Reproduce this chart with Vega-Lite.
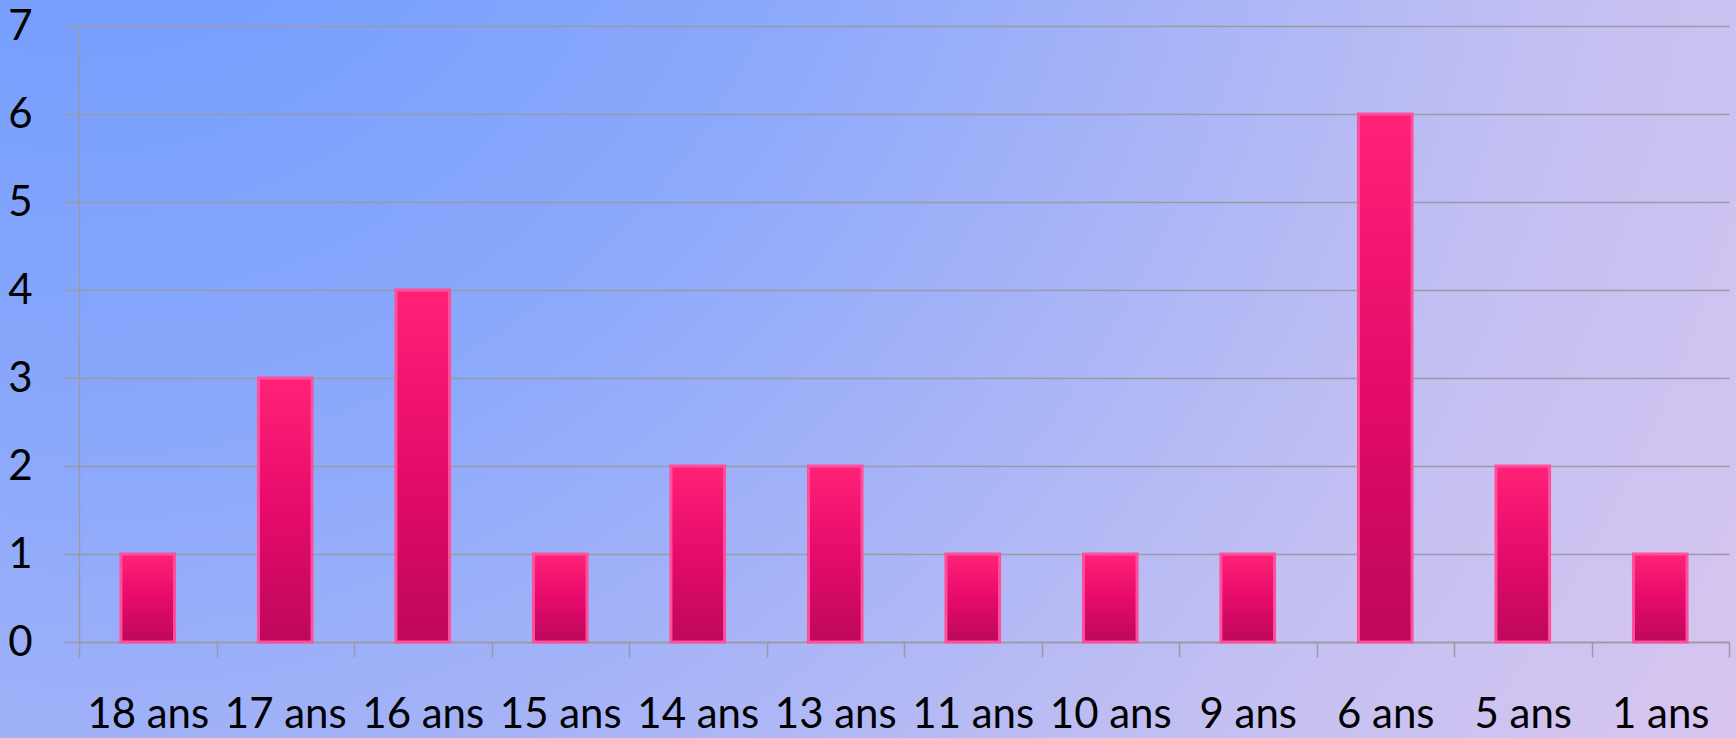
{
  "$schema": "https://vega.github.io/schema/vega-lite/v6.json",
  "width": 1736,
  "height": 738,
  "autosize": {"type": "none"},
  "padding": 0,
  "background": "#b8baf2",
  "config": {
    "view": {
      "stroke": null,
      "fill": {
        "gradient": "radial",
        "x1": 0.05, "y1": 0.12, "r1": 0,
        "x2": 0.05, "y2": 0.12, "r2": 1.25,
        "stops": [
          {"offset": 0, "color": "#6898ff"},
          {"offset": 0.35, "color": "#8ca9fb"},
          {"offset": 0.7, "color": "#c4c0f2"},
          {"offset": 1, "color": "#e2c8ee"}
        ]
      }
    }
  },
  "data": {
    "values": [
      {"age": "18 ans", "n": 1},
      {"age": "17 ans", "n": 3},
      {"age": "16 ans", "n": 4},
      {"age": "15 ans", "n": 1},
      {"age": "14 ans", "n": 2},
      {"age": "13 ans", "n": 2},
      {"age": "11 ans", "n": 1},
      {"age": "10 ans", "n": 1},
      {"age": "9 ans", "n": 1},
      {"age": "6 ans", "n": 6},
      {"age": "5 ans", "n": 2},
      {"age": "1 ans", "n": 1}
    ]
  },
  "mark": {
    "type": "bar",
    "width": {"band": 0.39},
    "color": {
      "gradient": "linear",
      "x1": 0, "y1": 0, "x2": 0, "y2": 1,
      "stops": [
        {"offset": 0, "color": "#ff2277"},
        {"offset": 0.5, "color": "#e60a6c"},
        {"offset": 1, "color": "#bd085c"}
      ]
    },
    "stroke": "#ff4f9c",
    "strokeWidth": 3
  },
  "encoding": {
    "x": {
      "field": "age",
      "type": "nominal",
      "sort": null,
      "scale": {"range": [79, 1729], "paddingInner": 0, "paddingOuter": 0},
      "axis": {
        "title": null,
        "orient": "bottom",
        "offset": -96,
        "tickBand": "extent",
        "tickSize": 15,
        "tickColor": "#9a9aa6",
        "tickWidth": 1.5,
        "domainColor": "#9a9aa6",
        "domainWidth": 1.5,
        "grid": false,
        "labelFont": "Lato",
        "labelFontSize": 42,
        "labelColor": "#000000",
        "labelAngle": 0,
        "labelBaseline": "alphabetic",
        "labelPadding": 70,
        "labelOverlap": false
      }
    },
    "y": {
      "field": "n",
      "type": "quantitative",
      "scale": {"domain": [0, 7], "range": [642, 26]},
      "axis": {
        "title": null,
        "orient": "left",
        "offset": -79,
        "values": [0, 1, 2, 3, 4, 5, 6, 7],
        "tickSize": 15,
        "tickColor": "#9a9aa6",
        "tickWidth": 1.5,
        "domainColor": "#9a9aa6",
        "domainWidth": 1.5,
        "grid": true,
        "gridColor": "#9a9aa6",
        "gridWidth": 1.5,
        "gridOpacity": 1,
        "labelFont": "Lato",
        "labelFontSize": 42,
        "labelColor": "#000000",
        "labelPadding": 32
      }
    }
  }
}
